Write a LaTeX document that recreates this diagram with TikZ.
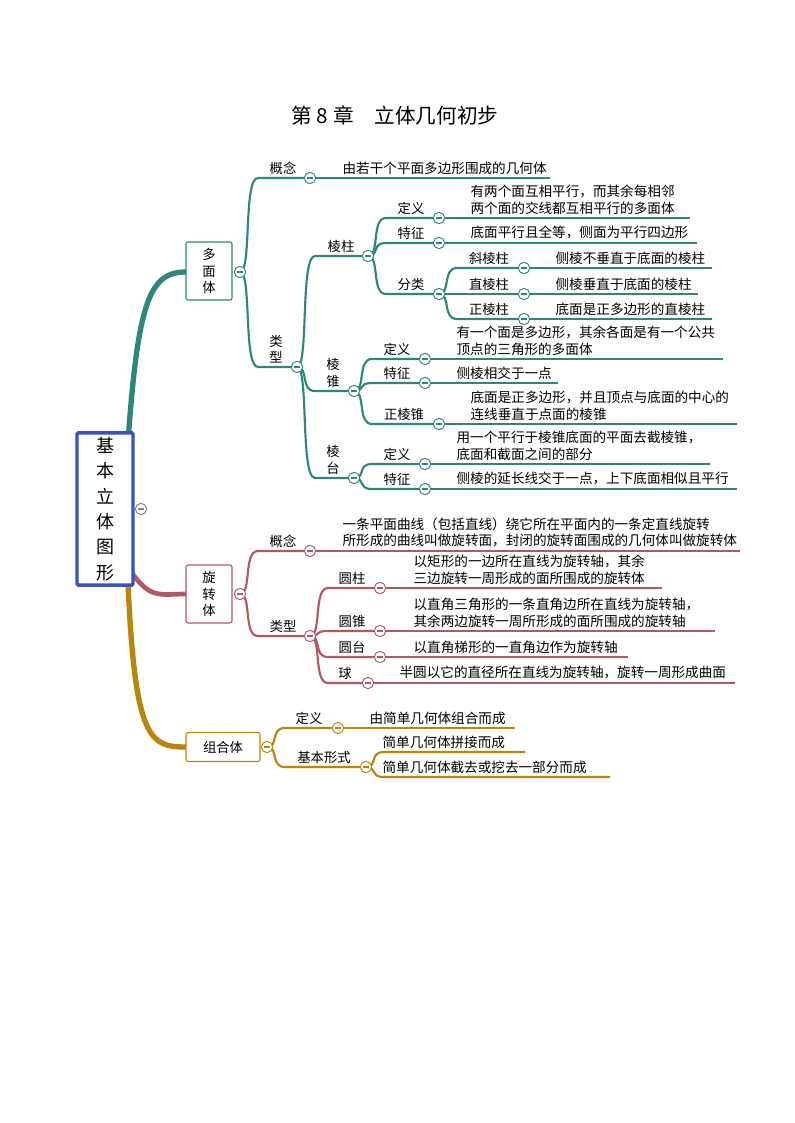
\documentclass[tikz,border=0pt]{standalone}
\usepackage{fontspec}
\setmainfont{Noto Sans CJK SC}
\usetikzlibrary{calc}
\definecolor{tl}{RGB}{46,135,120}
\definecolor{rd}{RGB}{178,88,100}
\definecolor{gd}{RGB}{184,134,11}
\definecolor{bl}{RGB}{60,80,190}
\tikzset{
 cir/.style={circle,draw=#1,fill=white,line width=0.7pt,minimum size=8.5pt,inner sep=0pt,
   path picture={\draw[#1,line width=0.8pt] ($(path picture bounding box.center)+(-2.3pt,0)$) -- ++(4.6pt,0);}},
 lab/.style={anchor=south,font=\fontsize{10}{12}\selectfont,inner sep=1pt},
 vlab/.style={anchor=south,font=\fontsize{10}{12.5}\selectfont,inner sep=1pt,align=center},
 txt/.style={anchor=south west,font=\fontsize{10.2}{12.3}\selectfont,inner sep=1pt,align=left},
 box/.style={draw=#1,fill=white,rounded corners=1.5pt,line width=0.8pt,align=center,font=\fontsize{10}{12.5}\selectfont},
 br/.style={draw=#1,line width=1.6pt},
 ul/.style={draw=#1,line width=1pt},
}
\newcommand{\lk}[5]{\draw[br=#1] (#2,#3) .. controls ({#2+12},#3) and ({#2+3},#5) .. ({#2+18},#5) -- (#4,#5);}
\newcommand{\ul}[4]{\draw[ul=#1] (#2,#3) -- (#4,#3);}
\begin{document}
\begin{tikzpicture}[x=0.75pt,y=-0.75pt]
\useasboundingbox[fill=white] (0,0) rectangle (794,1123);
\node[font=\fontsize{15.5}{18}\selectfont] (title) at (395,116) {第 8 章\quad 立体几何初步};
% main branches
\draw[tl,line width=4pt] (128,442) .. controls (138,300) and (150,272) .. (186,272);
\draw[rd,line width=3.5pt] (130,570) .. controls (150,600) and (160,594) .. (186,594);
\draw[gd,line width=4pt] (128,583) .. controls (135,740) and (150,747) .. (186,747);
\node[draw=bl,line width=2.5pt,fill=white,minimum width=56*0.75pt,minimum height=148*0.75pt,rounded corners=1pt,align=center,font=\fontsize{13.5}{19}\selectfont] (root) at (105,509) {基\\本\\立\\体\\图\\形};
\node[circle,draw=gray,line width=0.7pt,minimum size=8.5pt,inner sep=0,path picture={\draw[gray,line width=0.8pt] ($(path picture bounding box.center)+(-2.3pt,0)$) -- ++(4.6pt,0);}] (r0) at (141,509) {};
\node[box=tl,minimum width=46*0.75pt,minimum height=58*0.75pt] (p1) at (209,271) {多\\面\\体};
\node[box=rd,minimum width=46*0.75pt,minimum height=58*0.75pt] (p2) at (209,594) {旋\\转\\体};
\node[box=gd,minimum width=74*0.75pt,minimum height=29*0.75pt] (p3) at (223,747) {组合体};
% teal
\lk{tl}{240}{272}{310}{178} \ul{tl}{310}{178}{550}
\lk{tl}{240}{272}{297}{367}
\lk{tl}{297}{367}{368}{256}
\lk{tl}{368}{256}{439}{218} \ul{tl}{439}{218}{690}
\lk{tl}{368}{256}{439}{243} \ul{tl}{439}{243}{697}
\lk{tl}{368}{256}{439}{294}
\lk{tl}{439}{294}{524}{268} \ul{tl}{524}{268}{712}
\lk{tl}{439}{294}{524}{294} \ul{tl}{524}{294}{698}
\lk{tl}{439}{294}{524}{319} \ul{tl}{524}{319}{712}
\lk{tl}{297}{367}{354}{391}
\lk{tl}{354}{391}{425}{359} \ul{tl}{425}{359}{723}
\lk{tl}{354}{391}{425}{383} \ul{tl}{425}{383}{558}
\lk{tl}{354}{391}{439}{424} \ul{tl}{439}{424}{737}
\lk{tl}{297}{367}{354}{478}
\lk{tl}{354}{478}{425}{464} \ul{tl}{425}{464}{710}
\lk{tl}{354}{478}{425}{489} \ul{tl}{425}{489}{737}
% red
\lk{rd}{240}{594}{310}{551} \ul{rd}{310}{551}{740}
\lk{rd}{240}{594}{310}{636}
\lk{rd}{310}{636}{380}{588} \ul{rd}{380}{588}{662}
\lk{rd}{310}{636}{380}{631} \ul{rd}{380}{631}{715}
\lk{rd}{310}{636}{380}{657} \ul{rd}{380}{657}{628}
\lk{rd}{310}{636}{368}{683} \ul{rd}{368}{683}{735}
% gold
\lk{gd}{267}{747}{338}{728} \ul{gd}{338}{728}{515}
\lk{gd}{267}{747}{366}{767}
\lk{gd}{366}{767}{525}{752}
\lk{gd}{366}{767}{610}{777}
% circles
\foreach \n/\x/\y in {a1/240/272,a2/310/178,a3/297/367,a4/368/256,a5/439/218,a6/439/243,a7/439/294,a8/524/268,a9/524/294,a10/524/319,a11/354/391,a12/425/359,a13/425/383,a14/439/424,a15/354/478,a16/425/464,a17/425/489}
  \node[cir=tl] (\n) at (\x,\y) {};
\foreach \n/\x/\y in {b1/240/594,b2/310/551,b3/310/636,b4/380/588,b5/380/631,b6/380/657,b7/368/683}
  \node[cir=rd] (\n) at (\x,\y) {};
\foreach \n/\x/\y in {g1/267/747,g2/338/728,g3/366/767}
  \node[cir=gd] (\n) at (\x,\y) {};
% teal labels
\node[lab] (l1) at (283,176) {概念};
\node[txt] (t1) at (341,176) {由若干个平面多边形围成的几何体};
\node[vlab] (l2) at (276,365) {类\\型};
\node[lab] (l3) at (341,254) {棱柱};
\node[lab] (l4) at (411,216) {定义};
\node[txt] (t4) at (469,216) {有两个面互相平行，而其余每相邻\\两个面的交线都互相平行的多面体};
\node[lab] (l5) at (411,241) {特征};
\node[txt] (t5) at (469,241) {底面平行且全等，侧面为平行四边形};
\node[lab] (l6) at (411,292) {分类};
\node[lab] (l7) at (489,266) {斜棱柱};
\node[txt] (t7) at (554,266) {侧棱不垂直于底面的棱柱};
\node[lab] (l8) at (489,292) {直棱柱};
\node[txt] (t8) at (554,292) {侧棱垂直于底面的棱柱};
\node[lab] (l9) at (489,317) {正棱柱};
\node[txt] (t9) at (554,317) {底面是正多边形的直棱柱};
\node[vlab] (l10) at (333,389) {棱\\锥};
\node[lab] (l11) at (397,357) {定义};
\node[txt] (t11) at (455,357) {有一个面是多边形，其余各面是有一个公共\\顶点的三角形的多面体};
\node[lab] (l12) at (397,381) {特征};
\node[txt] (t12) at (455,381) {侧棱相交于一点};
\node[lab] (l13) at (404,422) {正棱锥};
\node[txt] (t13) at (469,422) {底面是正多边形，并且顶点与底面的中心的\\连线垂直于点面的棱锥};
\node[vlab] (l14) at (333,476) {棱\\台};
\node[lab] (l15) at (397,462) {定义};
\node[txt] (t15) at (455,462) {用一个平行于棱锥底面的平面去截棱锥，\\底面和截面之间的部分};
\node[lab] (l16) at (397,487) {特征};
\node[txt] (t16) at (455,487) {侧棱的延长线交于一点，上下底面相似且平行};
% red labels
\node[lab] (m1) at (283,549) {概念};
\node[txt] (s1) at (341,549) {一条平面曲线（包括直线）绕它所在平面内的一条定直线旋转\\所形成的曲线叫做旋转面，封闭的旋转面围成的几何体叫做旋转体};
\node[lab] (m2) at (283,634) {类型};
\node[lab] (m3) at (352,586) {圆柱};
\node[txt] (s3) at (412,586) {以矩形的一边所在直线为旋转轴，其余\\三边旋转一周形成的面所围成的旋转体};
\node[lab] (m4) at (352,629) {圆锥};
\node[txt] (s4) at (412,629) {以直角三角形的一条直角边所在直线为旋转轴，\\其余两边旋转一周所形成的面所围成的旋转轴};
\node[lab] (m5) at (352,655) {圆台};
\node[txt] (s5) at (412,655) {以直角梯形的一直角边作为旋转轴};
\node[lab] (m6) at (345,681) {球};
\node[txt] (s6) at (398,681) {半圆以它的直径所在直线为旋转轴，旋转一周形成曲面};
% gold labels
\node[lab] (n1) at (309,726) {定义};
\node[txt] (u1) at (368,726) {由简单几何体组合而成};
\node[lab] (n2) at (324,765) {基本形式};
\node[txt] (u2) at (381,750) {简单几何体拼接而成};
\node[txt] (u3) at (381,775) {简单几何体截去或挖去一部分而成};
\end{tikzpicture}
\end{document}
